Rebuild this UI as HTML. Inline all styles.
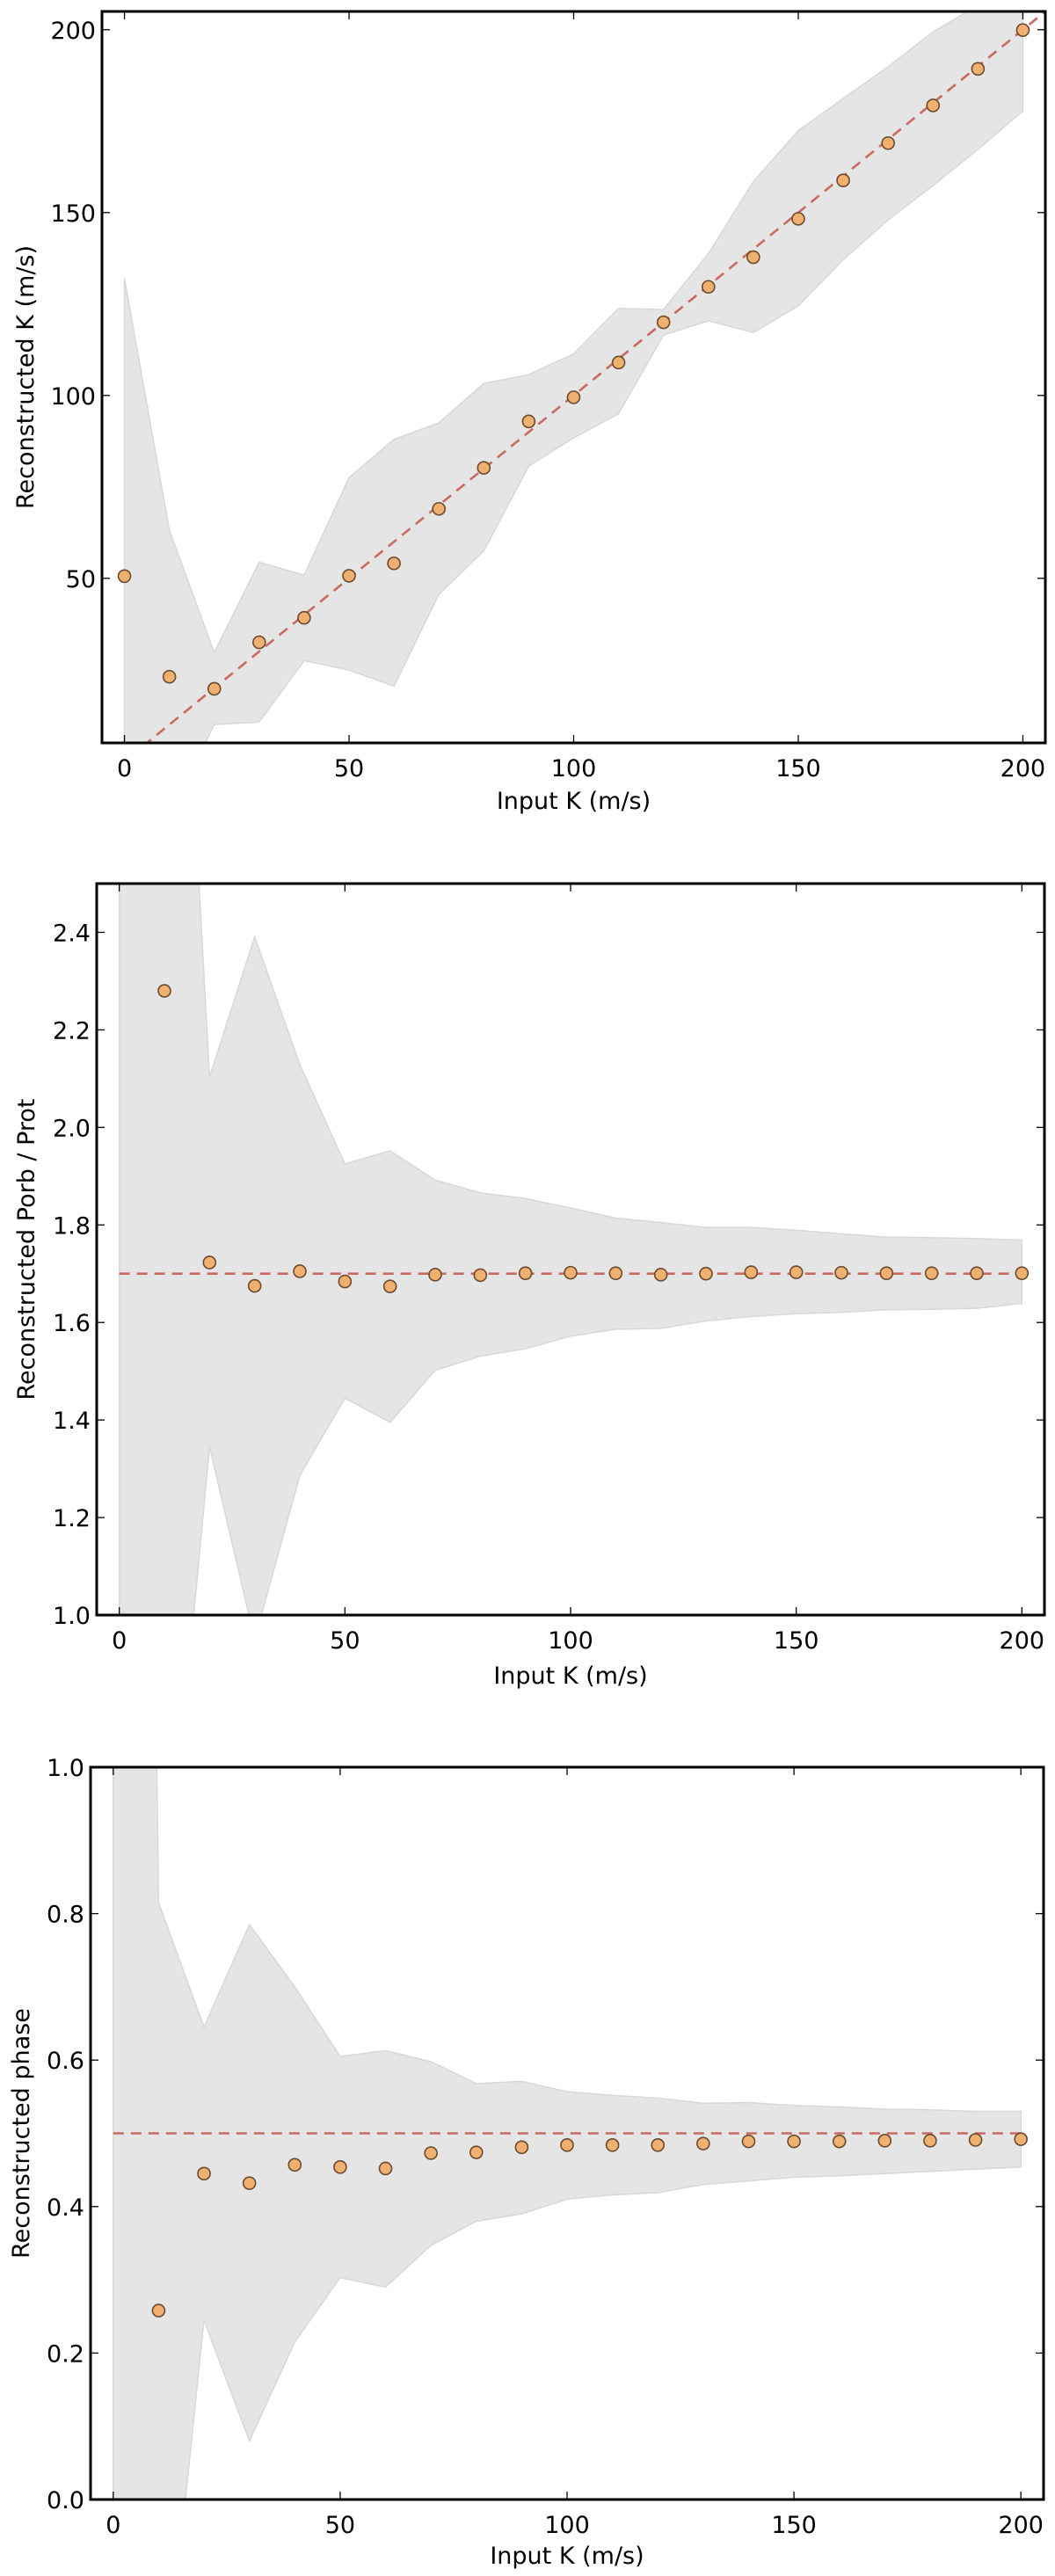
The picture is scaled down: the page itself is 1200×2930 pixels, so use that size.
<!DOCTYPE html>
<html><head><meta charset="utf-8"><style>
html,body{margin:0;padding:0;background:#fff;overflow:hidden;width:1200px;height:2930px;}
svg{display:block;}
text{font-family:"DejaVu Sans","Liberation Sans",sans-serif;fill:#000;}
</style></head><body>
<svg id="fig" width="1200" height="2930" viewBox="0 0 1200 2930" xmlns="http://www.w3.org/2000/svg"></svg>
<script>
// ---- Panel 1: reconstructed K ----
const kCategories = [0,10,20,30,40,50,60,70,80,90,100,110,120,130,140,150,160,170,180,190,200];
const kValues = [50.6,23.1,19.8,32.5,39.2,50.7,54.1,69.0,80.2,92.9,99.5,109.0,120.0,129.7,137.8,148.3,158.8,169.0,179.3,189.3,199.9];
const kUpper = [132.1,63.2,29.7,54.4,50.9,77.5,88.0,92.5,103.3,105.7,111.4,123.8,123.5,138.8,158.5,172.4,181.2,189.9,199.4,206.7,211];
const kLower = [-30,-15,10.0,10.7,27.5,24.9,20.5,45.6,57.5,80.7,88.4,95.0,116.5,120.4,117.2,124.5,137.1,148.0,157.4,167.3,177.8];
const kTicksX = [0,50,100,150,200];
const kTicksY = [50,100,150,200];
const kTickLabelsY = ["50","100","150","200"];
// ---- Panel 2: Porb / Prot ----
const pCategories = [0,10,20,30,40,50,60,70,80,90,100,110,120,130,140,150,160,170,180,190,200];
const pValues = [null,2.28,1.723,1.675,1.705,1.684,1.674,1.698,1.697,1.701,1.702,1.701,1.698,1.700,1.703,1.703,1.702,1.701,1.701,1.701,1.701];
const pUpper = [5,3.8,2.103,2.391,2.129,1.925,1.952,1.892,1.866,1.854,1.835,1.814,1.805,1.795,1.795,1.789,1.782,1.775,1.774,1.772,1.769];
const pLower = [0,0.36,1.345,0.95,1.286,1.445,1.395,1.502,1.531,1.546,1.572,1.586,1.588,1.603,1.612,1.618,1.621,1.626,1.627,1.629,1.639];
const pTicksY = [1.0,1.2,1.4,1.6,1.8,2.0,2.2,2.4];
const pTickLabelsY = ["1.0","1.2","1.4","1.6","1.8","2.0","2.2","2.4"];
const pTrue = 1.7;
// ---- Panel 3: phase ----
const phCategories = [0,10,20,30,40,50,60,70,80,90,100,110,120,130,140,150,160,170,180,190,200];
const phValues = [null,0.258,0.445,0.432,0.457,0.454,0.452,0.473,0.474,0.481,0.484,0.484,0.484,0.486,0.489,0.489,0.489,0.490,0.490,0.491,0.492];
const phUpper = [5.4,0.815,0.645,0.785,0.70,0.605,0.613,0.598,0.568,0.571,0.557,0.552,0.548,0.541,0.542,0.538,0.536,0.533,0.532,0.530,0.530];
const phLower = [-5,-0.353,0.245,0.08,0.215,0.303,0.29,0.347,0.38,0.39,0.41,0.416,0.419,0.43,0.435,0.44,0.442,0.445,0.448,0.451,0.454];
const phTicksY = [0.0,0.2,0.4,0.6,0.8,1.0];
const phTickLabelsY = ["0.0","0.2","0.4","0.6","0.8","1.0"];
const phTrue = 0.5;

const NS = "http://www.w3.org/2000/svg";
const fig = document.getElementById('fig');
function mk(tag, attrs, parent){
  const e = document.createElementNS(NS, tag);
  for (const k in attrs) e.setAttribute(k, attrs[k]);
  (parent||fig).appendChild(e);
  return e;
}

function panel(cfg){
  const g = mk('g', {});
  
  
  const L=cfg.left, R=cfg.right, T=cfg.top, B=cfg.bottom;
  const xs = v => L + (v - cfg.xmin) / (cfg.xmax - cfg.xmin) * (R - L);
  const ys = v => B - (v - cfg.ymin) / (cfg.ymax - cfg.ymin) * (B - T);
  const cid = cfg.name + '-clip';
  const defs = mk('defs', {}, g);
  const cp = mk('clipPath', {id: cid}, defs);
  mk('rect', {x:L, y:T, width:R-L, height:B-T}, cp);
  const plot = mk('g', {'clip-path':'url(#'+cid+')'}, g);

  // band: geometry is clipped, so clamp pixel coords (linear interpolation keeps edges exact within axes)
  const ptsU = cfg.cats.map((c,i)=>[xs(c), ys(cfg.upper[i])]);
  const ptsL = cfg.cats.map((c,i)=>[xs(c), ys(cfg.lower[i])]);
  function clampPoly(pts){
    // insert crossings with the clamp lines, then clamp
    const lo = T-3, hi = B+3, out=[];
    for (let i=0;i<pts.length;i++){
      const p = pts[i];
      if (i>0){
        const q = pts[i-1];
        [lo,hi].forEach(lim=>{
          if ((q[1]-lim)*(p[1]-lim) < 0){
            const t = (lim-q[1])/(p[1]-q[1]);
            out.push([q[0]+t*(p[0]-q[0]), lim]);
          }
        });
      }
      out.push([p[0], Math.min(hi, Math.max(lo, p[1]))]);
    }
    return out;
  }
  const up = clampPoly(ptsU), lw = clampPoly(ptsL).reverse();
  let d = '';
  up.concat(lw).forEach((p,i)=>{ d += (i?'L':'M') + p[0].toFixed(1) + ',' + p[1].toFixed(1); });
  d += 'Z';
  const band = mk('path', {d:d, fill:'#e5e5e5', stroke:'#d8d8d8', 'stroke-width':1.5}, plot);
  
  

  let line;
  if (cfg.trueVal === undefined) {
    line = mk('line', {x1:xs(cfg.xmin), y1:ys(cfg.xmin), x2:xs(cfg.xmax), y2:ys(cfg.xmax)}, plot);
  } else {
    line = mk('line', {x1:xs(0), y1:ys(cfg.trueVal), x2:xs(200), y2:ys(cfg.trueVal)}, plot);
  }
  line.setAttribute('stroke', '#c96a62');
  line.setAttribute('stroke-width', '2.6');
  line.setAttribute('stroke-dasharray', '12,8');
  
  

  cfg.cats.forEach((c,i)=>{
    const v = cfg.vals[i];
    if (v === null) return;
    const p = mk('circle', {cx:xs(c), cy:ys(v), r:7, fill:'#f0b070', stroke:'#6b4a2e', 'stroke-width':1.6}, plot);
    
    
  });

  const tk = mk('g', {stroke:'#000', 'stroke-width':1.3}, g);
  kTicksX.forEach(t=>{
    const x = xs(t);
    mk('line', {x1:x, y1:B, x2:x, y2:B-9}, tk);
    mk('line', {x1:x, y1:T, x2:x, y2:T+9}, tk);
    const lab = mk('text', {x:x, y:B+38, 'text-anchor':'middle', 'font-size':27}, g);
    lab.textContent = String(t);
    
    
  });
  cfg.ticksY.forEach((t,i)=>{
    const y = ys(t);
    mk('line', {x1:L, y1:y, x2:L+9, y2:y}, tk);
    mk('line', {x1:R, y1:y, x2:R-9, y2:y}, tk);
    const lab = mk('text', {x:L-7, y:y+10, 'text-anchor':'end', 'font-size':27}, g);
    lab.textContent = cfg.tickLabelsY[i];
    
    
  });
  const frame = mk('rect', {x:L, y:T, width:R-L, height:B-T, fill:'none', stroke:'#000', 'stroke-width':3}, g);
  
  

  const xl = mk('text', {x:(L+R)/2, y:cfg.xlabelY, 'text-anchor':'middle', 'font-size':27}, g);
  xl.textContent = 'Input K (m/s)';
  
  
  const cy = (T+B)/2;
  const yl = mk('text', {x:cfg.ylabelX, y:cy, 'text-anchor':'middle', 'font-size':27,
    transform:'rotate(-90 '+cfg.ylabelX+' '+cy+')'}, g);
  yl.textContent = cfg.ylabel;
  
  
}

panel({name:'k-panel', left:116, right:1189, top:13, bottom:845, xmin:-5, xmax:205, ymin:5, ymax:205,
  cats:kCategories, vals:kValues, upper:kUpper, lower:kLower, ticksY:kTicksY, tickLabelsY:kTickLabelsY,
  ylabel:'Reconstructed K (m/s)', ylabelX:38, xlabelY:920});
panel({name:'period-panel', left:110, right:1188, top:1005, bottom:1837, xmin:-5, xmax:205, ymin:1.0, ymax:2.5,
  cats:pCategories, vals:pValues, upper:pUpper, lower:pLower, ticksY:pTicksY, tickLabelsY:pTickLabelsY,
  trueVal:pTrue, ylabel:'Reconstructed Porb / Prot', ylabelX:39, xlabelY:1915});
panel({name:'phase-panel', left:103, right:1187, top:2010, bottom:2843, xmin:-5, xmax:205, ymin:0, ymax:1.0,
  cats:phCategories, vals:phValues, upper:phUpper, lower:phLower, ticksY:phTicksY, tickLabelsY:phTickLabelsY,
  trueVal:phTrue, ylabel:'Reconstructed phase', ylabelX:33, xlabelY:2916});
</script>
</body></html>
